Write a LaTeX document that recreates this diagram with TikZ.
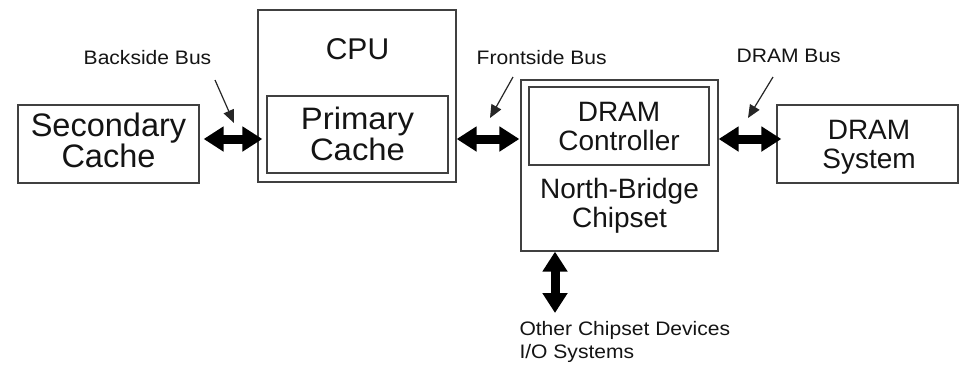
\documentclass[tikz,border=0pt]{standalone}
\usepackage{fontspec}
\setmainfont{Liberation Sans}
\newfontfamily\smallfam{Liberation Sans}[FakeStretch=1.08]
\newfontfamily\widefam{Liberation Sans}[FakeStretch=1.06]
\usetikzlibrary{arrows.meta,calc}
\begin{document}
\begin{tikzpicture}[x=1pt,y=-1pt,
  box/.style={draw=black!75,line width=1.3pt,rectangle,inner sep=0pt},
  bigtext/.style={font=\fontsize{32.5}{30}\selectfont,align=center,inner sep=0pt,text=black!92},
  midtext/.style={font=\fontsize{28}{29}\selectfont,align=center,inner sep=0pt,text=black!92},
  smalltext/.style={font=\smallfam\fontsize{19.5}{22.5}\selectfont,inner sep=0pt,text=black!92},
  bus/.style={line width=9pt,draw=black,{Triangle[length=20pt,width=24pt]}-{Triangle[length=20pt,width=24pt]}},
  pointer/.style={draw=black!85,line width=1.2pt,-{Triangle[length=13pt,width=11pt]}}]
\fill[white] (0,0) rectangle (961,368);
\useasboundingbox (0,0) rectangle (961,368);
% boxes
\node[box,minimum width=181pt,minimum height=78pt] (sec) at (108.5,144) {};
\node[box,minimum width=198pt,minimum height=172pt] (cpu) at (357,96) {};
\node[box,minimum width=181pt,minimum height=77pt] (pc) at (357.5,134.5) {};
\node[box,minimum width=197pt,minimum height=171pt] (nb) at (619.5,165.5) {};
\node[box,minimum width=180pt,minimum height=78pt] (dc) at (619,126) {};
\node[box,minimum width=181pt,minimum height=78pt] (ds) at (867.5,144) {};
% box texts
\node[bigtext] (sectext) at (108.5,140.3) {Secondary\\Cache};
\node[font=\fontsize{30}{30}\selectfont,inner sep=0pt,text=black!92] (cputext) at (357.5,49.2) {CPU};
\node[align=center,inner sep=0pt,text=black!92,font=\widefam\fontsize{31}{31.5}\selectfont] (pctext) at (357.5,133.8) {Primary\\Cache};
\node[midtext] (dctext) at (619,126.2) {DRAM\\Controller};
\node[midtext] (nbtext) at (619.5,206) {North-Bridge\\Chipset};
\node[midtext] (dstext) at (869,147) {DRAM\\System};
% labels
\node[smalltext] (bsl) at (147.5,57.3) {Backside Bus};
\node[smalltext] (fsl) at (541.7,57.3) {Frontside Bus};
\node[smalltext] (drl) at (788.7,55.7) {DRAM Bus};
\node[smalltext,align=left,anchor=north west] (other) at (519.3,321.5) {Other Chipset Devices\\I/O Systems};
% buses
\draw[bus] ($(sec.east)+(4,-5)$) -- ($(pc.west)+(-4,4.5)$);
\draw[bus] ($(cpu.east)+(0,43)$) -- ($(nb.west)+(-1,-26.5)$);
\draw[bus] ($(nb.east)+(0,-26.5)$) -- ($(ds.west)+(5,-5)$);
\draw[bus] ($(nb.south)+(-64.5,0)$) -- ($(other.north west)+(35.7,-8.5)$);
% pointers
\coordinate (bsfrom) at (215,80);
\coordinate (bsto) at (234,123);
\coordinate (fsfrom) at (513,77);
\coordinate (fsto) at (490,118);
\coordinate (drfrom) at (773,77);
\coordinate (drto) at (748,118);
\draw[pointer] (bsfrom) -- (bsto);
\draw[pointer] (fsfrom) -- (fsto);
\draw[pointer] (drfrom) -- (drto);
\end{tikzpicture}
\end{document}
